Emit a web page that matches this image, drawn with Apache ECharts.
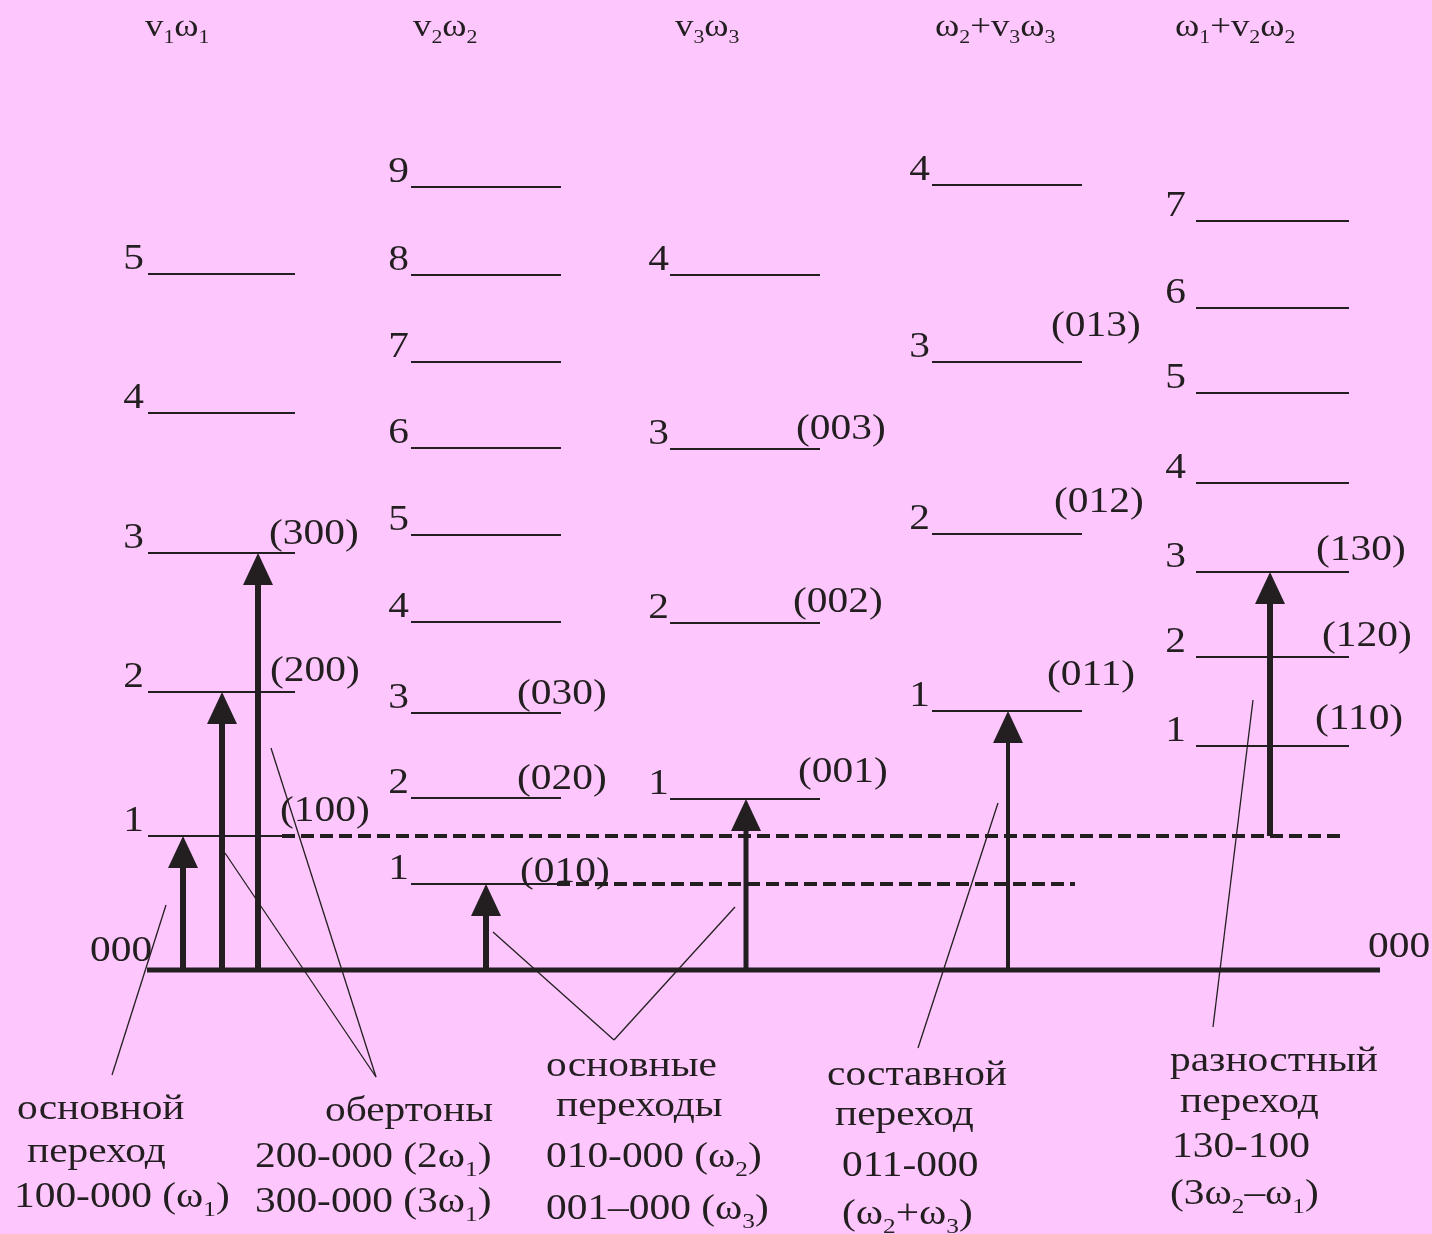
<!DOCTYPE html>
<html><head><meta charset="utf-8">
<script src="https://cdn.jsdelivr.net/npm/echarts@6/dist/echarts.min.js"></script>
<style>html,body{margin:0;padding:0;background:#fdc6fd}#c{width:1432px;height:1234px}</style>
</head><body><div id="c"></div>
<script>
// ================= DATA =================
// Column titles (rich text: {s|..} = subscript)
const columnTitles = ['v{s|1}ω{s|1}', 'v{s|2}ω{s|2}', 'v{s|3}ω{s|3}', 'ω{s|2}+v{s|3}ω{s|3}', 'ω{s|1}+v{s|2}ω{s|2}'];
// Vibrational level energies above the ground state 000 (diagram units)
const levelsV1    = [134, 278, 417, 557, 696];
const levelsV2    = [86, 172, 257, 348, 435, 522, 608, 695, 783];
const levelsV3    = [171, 347, 521, 695];
const levelsCombo = [259, 436, 608, 785];
const levelsDiff  = [224, 313, 398, 487, 577, 662, 749];
// State labels of the lowest three levels of each column
const statesV1    = ['(100)', '(200)', '(300)'];
const statesV2    = ['(010)', '(020)', '(030)'];
const statesV3    = ['(001)', '(002)', '(003)'];
const statesCombo = ['(011)', '(012)', '(013)'];
const statesDiff  = ['(110)', '(120)', '(130)'];
const groundLabel = '000';
// Transitions: column, lower state ('000' ground or '100'), upper level number
const transColumn = [0, 0, 0, 1, 2, 3, 4];
const transLower  = ['000', '000', '000', '000', '000', '000', '100'];
const transUpper  = [1, 2, 3, 1, 1, 1, 3];
// Dashed reference levels (state 100 and state 010)
const dashedStates = ['100', '010'];
// Annotation texts
const noteGroups = [
  ['основной', 'переход', '100-000 (ω{s|1})'],
  ['обертоны', '200-000 (2ω{s|1})', '300-000 (3ω{s|1})'],
  ['основные', 'переходы', '010-000 (ω{s|2})', '001–000 (ω{s|3})'],
  ['составной', 'переход', '011-000', '(ω{s|2}+ω{s|3})'],
  ['разностный', 'переход', '130-100', '(3ω{s|2}–ω{s|1})']
];

// ================= LAYOUT / STYLE =================
const INK = '#231f20';
const FONT = 'Liberation Serif';
const SX = 1.15;               // horizontal stretch of the lettering
const Y0PX = 970;              // page row of the ground level (axis spans page 1:1)
const P = (x, py) => [x, Y0PX - py];
const columns = [levelsV1, levelsV2, levelsV3, levelsCombo, levelsDiff];
const states = [statesV1, statesV2, statesV3, statesCombo, statesDiff];
const colLayout = [
  {x1: 148, x2: 295, numRight: 144, stateX: [280, 270, 269], stateDy: [24, 20, 18]},
  {x1: 411, x2: 561, numRight: 409, stateX: [520, 517, 517], stateDy: [11, 18, 18]},
  {x1: 670, x2: 820, numRight: 669, stateX: [798, 793, 796], stateDy: [26, 20, 19]},
  {x1: 932, x2: 1082, numRight: 930, stateX: [1047, 1054, 1051], stateDy: [35, 31, 35]},
  {x1: 1196, x2: 1349, numRight: 1186, stateX: [1315, 1322, 1316], stateDy: [26, 20, 21]}
];
const titleLayout = {x: [145, 413, 675, 935, 1175], py: 28};
const arrowLayout = {x: [183, 222, 258, 486, 746, 1008, 1270], w: [6, 6, 6, 6, 5, 4, 6], head: 32, half: 15};
const dashedLayout = [[282, 1345], [557, 1075]];
const baseLayout = [147, 1380];
const zeroLabelLayout = [[90, 952], [1368, 948]];
const noteLayout = [
  [[17, 1110], [27, 1153], [14, 1198]],
  [[325, 1112], [255, 1158], [255, 1203]],
  [[546, 1067], [556, 1107], [546, 1158], [546, 1210]],
  [[827, 1076], [835, 1116], [842, 1167], [842, 1215]],
  [[1170, 1062], [1180, 1103], [1172, 1148], [1170, 1195]]
];
const leaderLayout = [
  [[112, 1075], [166, 905]],
  [[376, 1077], [225, 853]],
  [[376, 1077], [271, 748]],
  [[614, 1040], [493, 932]],
  [[614, 1040], [735, 907]],
  [[918, 1048], [998, 803]],
  [[1213, 1027], [1253, 700]]
];

const stateValue = s => s === '000' ? 0 : s === '100' ? levelsV1[0] : levelsV2[0];

// ---- build segment list ----
const segments = [];
segments.push({a: [baseLayout[0], 0], b: [baseLayout[1], 0], w: 5});
columns.forEach((lv, c) => lv.forEach(v => segments.push({a: [colLayout[c].x1, v], b: [colLayout[c].x2, v], w: 1.8})));
dashedStates.forEach((s, i) => segments.push({a: [dashedLayout[i][0], stateValue(s)], b: [dashedLayout[i][1], stateValue(s)], w: 4, dash: [13, 6]}));
leaderLayout.forEach(l => segments.push({a: P(l[0][0], l[0][1]), b: P(l[1][0], l[1][1]), w: 1.3}));

// ---- arrows ----
const arrows = transColumn.map((c, i) => ({x: arrowLayout.x[i], from: stateValue(transLower[i]), to: columns[c][transUpper[i] - 1], w: arrowLayout.w[i]}));

// ---- texts ----
const texts = [];
columnTitles.forEach((t, i) => texts.push({p: P(titleLayout.x[i], titleLayout.py), t, size: 32, sub: 19, align: 'left'}));
columns.forEach((lv, c) => lv.forEach((v, i) => {
  texts.push({p: [colLayout[c].numRight, v + 14], t: String(i + 1), size: 36, align: 'right'});
  if (i < states[c].length) texts.push({p: [colLayout[c].stateX[i], v + colLayout[c].stateDy[i]], t: states[c][i], size: 36, align: 'left'});
}));
zeroLabelLayout.forEach(z => texts.push({p: P(z[0], z[1]), t: groundLabel, size: 36, align: 'left'}));
noteGroups.forEach((g, gi) => g.forEach((t, li) => texts.push({p: P(noteLayout[gi][li][0], noteLayout[gi][li][1]), t, size: 36, sub: 22, align: 'left'})));

const chart = echarts.init(document.getElementById('c'));
chart.setOption({
  backgroundColor: '#fdc6fd',
  animation: false,
  grid: {left: 0, right: 0, top: 0, bottom: 0},
  xAxis: {type: 'value', min: 0, max: 1432, show: false},
  yAxis: {type: 'value', min: -264, max: 970, show: false},
  series: [
    {
      type: 'custom', name: 'lines', coordinateSystem: 'cartesian2d', silent: true,
      data: segments.map(s => [s.a[0], s.a[1]]),
      renderItem: (params, api) => {
        const s = segments[params.dataIndex];
        const p1 = api.coord(s.a), p2 = api.coord(s.b);
        return {type: 'line', shape: {x1: p1[0], y1: p1[1], x2: p2[0], y2: p2[1]},
          style: {stroke: INK, lineWidth: s.w, lineDash: s.dash || null, lineCap: 'butt'}};
      }
    },
    {
      type: 'custom', name: 'transitions', coordinateSystem: 'cartesian2d', silent: true,
      data: arrows.map(a => [a.x, a.to]),
      renderItem: (params, api) => {
        const a = arrows[params.dataIndex];
        const base = api.coord([a.x, a.from]), tip = api.coord([a.x, a.to]);
        const h = arrowLayout.head, hw = arrowLayout.half;
        return {type: 'group', children: [
          {type: 'line', shape: {x1: base[0], y1: base[1], x2: tip[0], y2: tip[1] + h - 2}, style: {stroke: INK, lineWidth: a.w}},
          {type: 'polygon', shape: {points: [[tip[0], tip[1]], [tip[0] - hw, tip[1] + h], [tip[0] + hw, tip[1] + h]]}, style: {fill: INK}}
        ]};
      }
    },
    {
      type: 'custom', name: 'labels', coordinateSystem: 'cartesian2d', silent: true,
      data: texts.map(t => t.p),
      renderItem: (params, api) => {
        const t = texts[params.dataIndex];
        const p = api.coord(t.p);
        const sub = t.sub || 22;
        return {type: 'text', x: p[0], y: p[1], scaleX: SX,
          style: {text: t.t, fill: INK, font: t.size + 'px "' + FONT + '"', align: t.align, verticalAlign: 'middle',
            rich: {s: {fontSize: sub, fontFamily: FONT, fill: INK, padding: [Math.round(sub * 1.1), 0, 0, 0]}}}};
      }
    }
  ]
});
</script>
</body></html>
